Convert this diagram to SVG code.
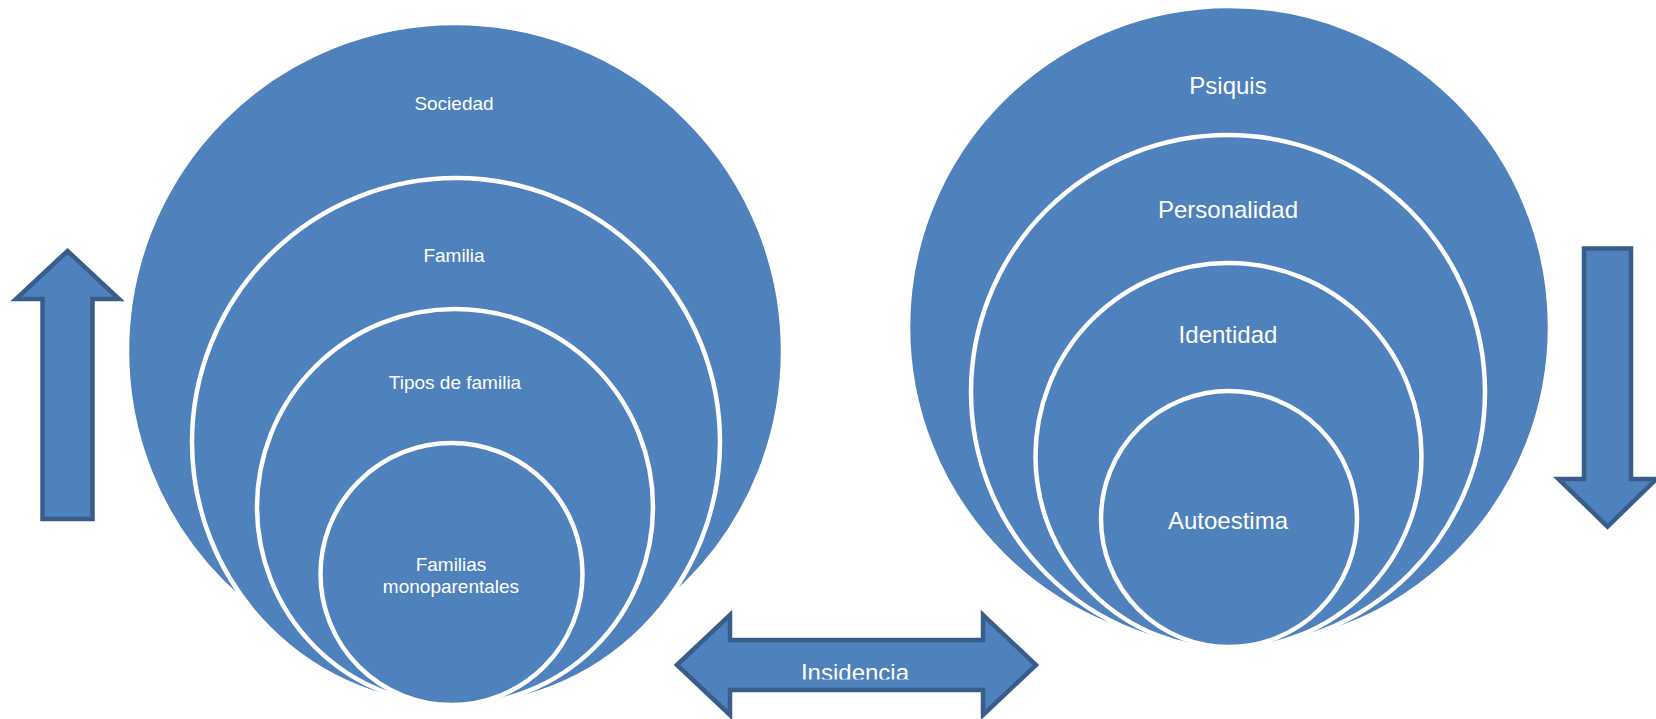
<svg xmlns="http://www.w3.org/2000/svg" width="1656" height="719" viewBox="0 0 1656 719">
<style>
.c{fill:#4F81BD;stroke:#FFFFFF;stroke-width:4.5}
.a{fill:#4F81BD;stroke:#385D8A;stroke-width:4.5;stroke-linejoin:miter}
.tl{fill:#FFFFFF;font-family:"Liberation Sans",Arial,sans-serif;font-size:19px;text-anchor:middle}
.tr{fill:#FFFFFF;font-family:"Liberation Sans",Arial,sans-serif;font-size:24px;text-anchor:middle}
</style>
<defs>
<clipPath id="insClip"><rect x="740" y="640" width="240" height="39.5"/></clipPath>
</defs>
<rect width="1656" height="719" fill="#FFFFFF"/>
<g id="sociedad"><circle class="c" cx="455" cy="351" r="328"/><text class="tl" x="454" y="110">Sociedad</text></g>
<g id="familia"><circle class="c" cx="456" cy="442" r="264"/><text class="tl" x="454" y="262">Familia</text></g>
<g id="tipos"><circle class="c" cx="455" cy="507" r="198"/><text class="tl" x="455" y="389">Tipos de familia</text></g>
<g id="monoparentales"><circle class="c" cx="451.5" cy="574" r="131"/><text class="tl" x="451" y="571">Familias</text><text class="tl" x="451" y="593">monoparentales</text></g>
<g id="psiquis"><circle class="c" cx="1229" cy="327" r="321"/><text class="tr" x="1228" y="94">Psiquis</text></g>
<g id="personalidad"><circle class="c" cx="1228" cy="392" r="257"/><text class="tr" x="1228" y="218">Personalidad</text></g>
<g id="identidad"><circle class="c" cx="1228.5" cy="456" r="193"/><text class="tr" x="1228" y="343">Identidad</text></g>
<g id="autoestima"><circle class="c" cx="1229" cy="519" r="128"/><text class="tr" x="1228" y="529">Autoestima</text></g>
<g id="connectors">
<polygon id="arrow-up" class="a" points="67.5,251 119,299 92.5,299 92.5,519 42.5,519 42.5,299 16,299"/>
<polygon id="arrow-down" class="a" points="1584,248.5 1631,248.5 1631,479 1656.5,479 1607.5,526.5 1558.5,479 1584,479"/>
<g id="insidencia">
<polygon class="a" points="677,665 730,615 730,640 983,640 983,615 1036,665 983,715 983,690 730,690 730,715"/>
<text class="tr" x="855" y="681" clip-path="url(#insClip)">Insidencia</text>
</g>
</g>
</svg>
